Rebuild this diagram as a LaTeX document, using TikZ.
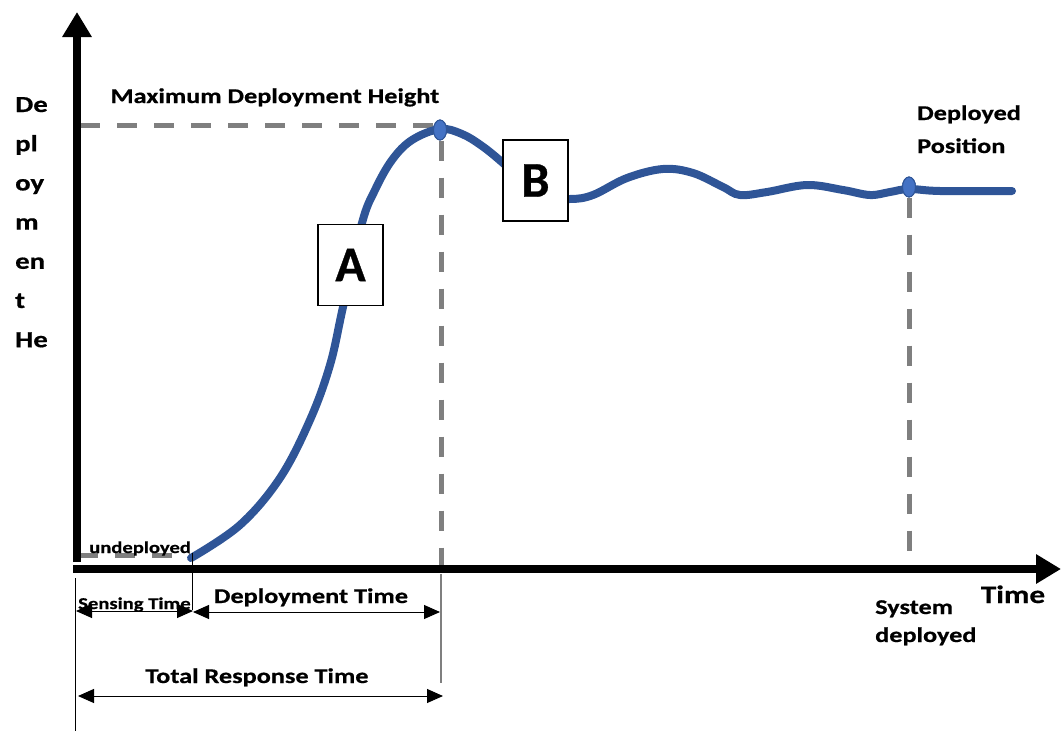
\documentclass[tikz,border=0pt]{standalone}
\usepackage{fontspec}
\setmainfont{Carlito}[FakeStretch=1.25, BoldFeatures={FakeBold=0.6}]
\newfontfamily\letterfont{Carlito}[BoldFeatures={FakeBold=0.6}]
\usetikzlibrary{arrows.meta,shapes.geometric}
\definecolor{curveblue}{HTML}{2F5597}
\definecolor{dotblue}{HTML}{4472C4}
\definecolor{dashgray}{HTML}{7F7F7F}
\begin{document}
\begin{tikzpicture}[x=1pt,y=-1pt,
  lbl/.style={font=\bfseries\fontsize{21}{25}\selectfont, inner sep=0pt},
  small/.style={font=\bfseries\fontsize{16.5}{20}\selectfont, inner sep=0pt},
  ylab/.style={font=\bfseries\fontsize{23}{28}\selectfont, inner sep=0pt},
  guide/.style={draw=dashgray, line width=5pt, dash pattern=on 20pt off 17pt},
  axis/.style={line width=8pt, -{Triangle[length=25pt,width=28pt]}},
  dim/.style={line width=1pt, {Triangle[length=16pt,width=14pt]}-{Triangle[length=16pt,width=14pt]}},
  thin/.style={line width=1pt},
  letterbox/.style={draw, line width=1.2pt, fill=white, minimum width=65pt, minimum height=81pt, inner sep=0pt, font=\letterfont\bfseries\fontsize{50}{50}\selectfont},
  dot/.style={ellipse, draw=curveblue, fill=dotblue, line width=1pt, minimum width=13pt, minimum height=20pt, inner sep=0pt},
  curve/.style={draw=curveblue, line width=8pt, line cap=round},
]
\useasboundingbox (0,0) rectangle (1061,731);

% reference coordinates
\coordinate (origin) at (77,562);
\coordinate (ytop) at (77,12);
\coordinate (xstart) at (73,569);
\coordinate (xend) at (1061,569);
\coordinate (start) at (191,559);
\coordinate (maxleft) at (80,125);
\coordinate (maxright) at (434,125);
\coordinate (undleft) at (78,555);
\coordinate (undright) at (190,555);
\coordinate (peakfoot) at (441,565);
\coordinate (depfoot) at (909,556);

% dots
\node[dot] (peak) at (440,130) {};
\node[dot] (deppos) at (909,187) {};

% guide dashed lines
\draw[guide] (maxleft) -- (maxright);
\draw[guide] (peak.south) ++(1,0) -- (peakfoot);
\draw[guide] (deppos.south) -- (depfoot);
\draw[guide] (undleft) -- (undright);

% curve
\draw[curve] plot[smooth, tension=0.6] coordinates {
  (191,558) (240,525) (280,478) (310,420) (330,365) (343,307)
  (362,223) (375,190) (392,160) (412,140) (440,129) (462,134) (482,146) (503,163)
  (540,196) (570,199) (593,195) (627,178) (663,169) (693,173) (723,187) (740,195)
  (767,192) (807,185) (843,190) (870,195) (890,192) (909,189) (940,191) (1012,191)};
\node[dot] at (peak) {};
\node[dot] at (deppos) {};

% boxes
\node[letterbox] (A) at (350.5,265) {A};
\node[letterbox] (B) at (535.5,180.5) {B};

% axes
\draw[axis] (origin) -- (ytop);
\draw[axis] (xstart) -- (xend);

% lower guide lines
\coordinate (l0top) at (75,578);
\coordinate (l0bot) at (75,731);
\coordinate (l1top) at (192,553);
\coordinate (l1bot) at (192,610);
\coordinate (l2top) at (441,574);
\coordinate (l2bot) at (441,683);
\draw[thin] (l0top) -- (l0bot);
\draw[thin] (l1top) -- (l1bot);
\draw[draw=dashgray, line width=2pt] (l2top) -- (l2bot);

% dimension arrows
\coordinate (s1) at (76,611);
\coordinate (s2) at (193,611);
\coordinate (d1) at (193,612);
\coordinate (d2) at (440,612);
\coordinate (t1) at (78,696);
\coordinate (t2) at (443,696);
\draw[dim] (s1) -- (s2);
\draw[dim] (d1) -- (d2);
\draw[dim] (t1) -- (t2);

% texts
\node[lbl, anchor=base] (maxh) at (275,103) {Maximum Deployment Height};
\foreach \t [count=\i] in {De,pl,oy,m,en,t,He}
  \node[ylab, anchor=base west] (yl\i) at (15,{112+39.2*(\i-1)}) {\t};
\node[small, anchor=base west] (und) at (89,553) {undeployed};
\node[small, anchor=base west] (sens) at (78,609) {Sensing Time};
\node[lbl, anchor=base] (dept) at (311,603) {Deployment Time};
\node[lbl, anchor=base] (tot) at (257,683) {Total Response Time};
\node[font=\bfseries\fontsize{25}{30}\selectfont, inner sep=0pt, anchor=base] (time) at (1013,603) {Time};
\node[lbl, anchor=base west] (sys1) at (875,614) {System};
\node[lbl, anchor=base west] (sys2) at (875,642) {deployed};
\node[lbl, anchor=base west] (dp1) at (917,120) {Deployed};
\node[lbl, anchor=base west] (dp2) at (917,153) {Position};
\end{tikzpicture}
\end{document}
